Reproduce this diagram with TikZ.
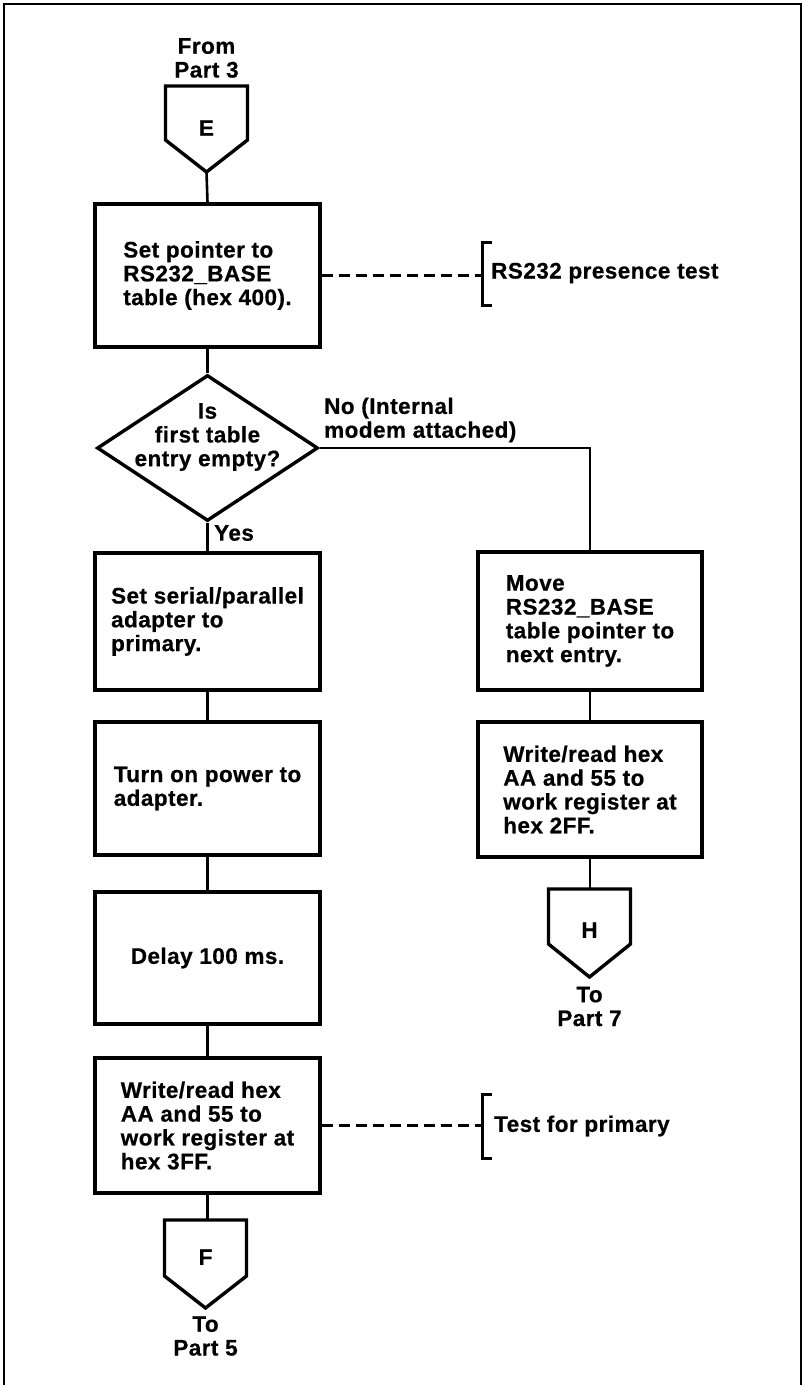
\documentclass[tikz,border=0pt]{standalone}
\usepackage{fontspec}
\setmainfont{Liberation Sans}[FakeBold=0.6, LetterSpace=2]
\usetikzlibrary{shapes.geometric}
\begin{document}
\begin{tikzpicture}[x=1pt,y=-1pt,
  every node/.style={inner sep=0pt, font=\fontsize{22.5}{23.8}\selectfont\bfseries},
  stepbox/.style={draw, line width=3.4pt, minimum width=225pt, align=left},
  decision/.style={draw, diamond, line width=3.4pt, minimum width=221pt, minimum height=146pt},
  flow/.style={line width=2.6pt},
  offpage/.style={line width=3.4pt, line join=miter},
  dashline/.style={line width=2.2pt, dash pattern=on 11pt off 6pt},
  bracket/.style={line width=3pt},
  frame/.style={line width=2pt}]

\useasboundingbox (0,0) rectangle (802,1385);

% page frame, open at the bottom
\draw[frame] (4,1385) -- (4,4) -- (800.5,4) -- (800.5,1385);

% off-page connector E (entry)
\node[align=center] (fromtxt) at (206.5,58) {From\\Part 3};
\coordinate (Etop) at (206.5,86);
\coordinate (Etip) at (206.5,172);
\draw[offpage] (Etop) ++(-41,0) -- ++(0,54) -- ++(41,32) -- ++(41,-32) -- ++(0,-54) -- cycle;
\node (Elbl) at (206.5,128) {E};

% main column
\node[stepbox, minimum height=143pt] (b1) at (207.5,275.5)
  {Set pointer to\\RS232\_BASE\\table (hex 400).};
\node[decision] (d) at (207.5,448) {};
\node[align=center] (dq) at (207.5,437) {Is\\first table\\entry empty?};
\node[stepbox, minimum height=137pt] (b2) at (207.5,621.5)
  {Set serial/parallel\\adapter to\\primary.};
\node[stepbox, minimum height=133pt] (b3) at (207.5,788.5)
  {Turn on power to\\adapter.};
\node[stepbox, minimum height=132pt] (b4) at (207.5,958)
  {Delay 100 ms.};
\node[stepbox, minimum height=135pt] (b5) at (207.5,1125.5)
  {Write/read hex\\AA and 55 to\\work register at\\hex 3FF.};

% right column
\node[stepbox, minimum width=224pt, minimum height=138pt] (r1) at (590,621)
  {Move\\RS232\_BASE\\table pointer to\\next entry.};
\node[stepbox, minimum width=224pt, minimum height=135pt] (r2) at (590,789.5)
  {Write/read hex\\AA and 55 to\\work register at\\hex 2FF.};

% branch labels
\node[anchor=west] (yes) at (214,533) {Yes};
\node[anchor=west, align=left] (no) at (324,420) {No (Internal\\modem attached)};

% off-page connector H
\coordinate (Htop) at (589.5,889);
\draw[offpage] (Htop) ++(-41,0) -- ++(0,55) -- ++(41,33) -- ++(41,-33) -- ++(0,-55) -- cycle;
\node (Hlbl) at (589.5,930) {H};
\node[align=center] (to7) at (589.5,1006.5) {To\\Part 7};

% off-page connector F
\coordinate (Ftop) at (205.5,1220);
\draw[offpage] (Ftop) ++(-41,0) -- ++(0,56) -- ++(41,32) -- ++(41,-32) -- ++(0,-56) -- cycle;
\node (Flbl) at (205.5,1257) {F};
\node[align=center] (to5) at (205.5,1336) {To\\Part 5};

% flow lines
\draw[flow] (Etip) -- (b1.north);
\draw[flow] (b1.south) -- (d.north);
\draw[flow] (d.south) -- (b2.north);
\draw[flow] (b2.south) -- (b3.north);
\draw[flow] (b3.south) -- (b4.north);
\draw[flow] (b4.south) -- (b5.north);
\draw[flow] (b5.south) -- (b5.south |- Ftop);
\draw[flow] (d.east) -| (r1.north);
\draw[flow] (r1.south) -- (r2.north);
\draw[flow] (r2.south) -- (r2.south |- Htop);

% annotations
\coordinate (brA) at (482,274);
\draw[dashline] (b1.east) -- (b1.east -| brA);
\draw[bracket] (brA) ++(10,-31.5) -- ++(-10,0) -- ++(0,63) -- ++(10,0);
\node[anchor=west] (noteA) at (491,273) {RS232 presence test};

\coordinate (brB) at (482,1126);
\draw[dashline] (b5.east) -- (b5.east -| brB);
\draw[bracket] (brB) ++(10,-32) -- ++(-10,0) -- ++(0,64) -- ++(10,0);
\node[anchor=west] (noteB) at (494,1126) {Test for primary};
\end{tikzpicture}
\end{document}
